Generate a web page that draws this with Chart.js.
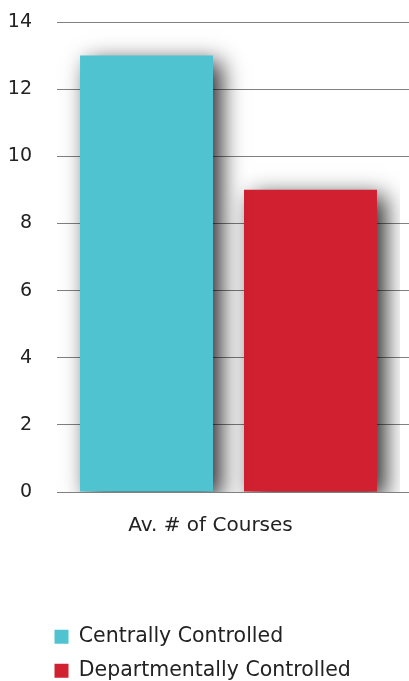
<!DOCTYPE html>
<html>
<head>
<meta charset="utf-8">
<script src="https://cdn.jsdelivr.net/npm/chart.js@4"></script>
<style>
  html, body { margin: 0; padding: 0; background: #fff; }
  #wrap { width: 409px; height: 681px; }
</style>
</head>
<body>
<div id="wrap"><canvas id="myChart"></canvas></div>
<script>
const categories = ["Av. # of Courses"];
const seriesNames = ["Centrally Controlled", "Departmentally Controlled"];
const centralValues = [13];
const departmentValues = [9];
const yTicks = [0, 2, 4, 6, 8, 10, 12, 14];

const fontFamily = "'DejaVu Sans', sans-serif";
const gridColor = "#808080";

// drop shadow behind the bars
const barShadow = {
    id: "barShadow",
    beforeDatasetsDraw(chart) {
        const ctx = chart.ctx;
        ctx.save();
        ctx.shadowColor = "rgba(0, 0, 0, 0.85)";
        ctx.shadowBlur = 22;
        ctx.shadowOffsetX = 8;
        ctx.shadowOffsetY = 6;
    },
    afterDatasetsDraw(chart) {
        chart.ctx.restore();
    }
};

// move the legend rows over to line up with the plot
const legendShift = {
    id: "legendShift",
    afterLayout(chart) {
        chart.legend.left += 33;
        chart.legend.right += 33;
        chart.legend.top += 10;
        chart.legend.bottom += 10;
    }
};

const canvasElement = document.getElementById("myChart");

const config = {
    type: "bar",
    data: {
        labels: categories,
        datasets: [
            {
                label: seriesNames[0],
                data: centralValues,
                backgroundColor: "rgb(79, 196, 208)",
                borderWidth: 0,
            },
            {
                label: seriesNames[1],
                data: departmentValues,
                backgroundColor: "rgb(209, 32, 48)",
                borderWidth: 0,
            },
        ],
    },
    options: {
        responsive: true,
        maintainAspectRatio: false,
        animation: false,
        categoryPercentage: 0.956,
        barPercentage: 0.811,
        layout: {
            padding: { left: 8, right: 0, top: 22, bottom: 0 },
        },
        plugins: {
            tooltip: { enabled: false },
            legend: {
                position: "bottom",
                align: "start",
                labels: {
                    boxWidth: 14,
                    boxHeight: 14,
                    padding: 13.5,
                    color: "#222",
                    font: { family: fontFamily, size: 20.5 },
                },
            },
        },
        scales: {
            x: {
                grid: { display: false },
                border: { display: false },
                ticks: {
                    color: "#222",
                    padding: 14,
                    labelOffset: -18,
                    font: { family: fontFamily, size: 20 },
                },
                afterFit(scale) {
                    scale.height = 111;
                },
            },
            y: {
                min: 0,
                max: 14,
                afterBuildTicks(scale) {
                    scale.ticks = yTicks.map(v => ({ value: v }));
                },
                afterFit(scale) {
                    scale.width = 49;
                    scale.paddingTop = 0;
                    scale.paddingBottom = 0;
                },
                grid: {
                    color: gridColor,
                    lineWidth: 1,
                    drawTicks: false,
                },
                border: { display: false },
                ticks: {
                    color: "#222",
                    padding: 25,
                    font: { family: fontFamily, size: 19 },
                },
            },
            // right side stubs so the grid runs to the edge
            y2: {
                position: "right",
                min: 0,
                max: 14,
                afterBuildTicks(scale) {
                    scale.ticks = yTicks.map(v => ({ value: v }));
                },
                afterFit(scale) {
                    scale.width = 9;
                    scale.paddingTop = 0;
                    scale.paddingBottom = 0;
                },
                grid: {
                    color: gridColor,
                    lineWidth: 1,
                    drawOnChartArea: false,
                    drawTicks: true,
                    tickLength: 9,
                },
                border: { display: false },
                ticks: { display: false },
            },
        },
    },
    plugins: [barShadow, legendShift],
};

const myChart = new Chart(canvasElement, config);
</script>
</body>
</html>
